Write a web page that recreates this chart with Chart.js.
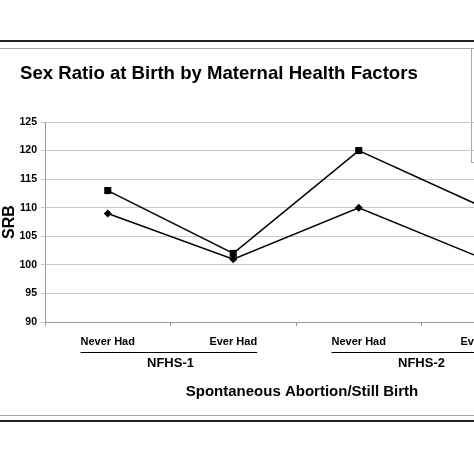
<!DOCTYPE html>
<html><head><meta charset="utf-8">
<script src="https://cdn.jsdelivr.net/npm/chart.js@4/dist/chart.umd.min.js"></script>
<style>html,body{margin:0;padding:0;overflow:hidden;background:#fff;width:474px;height:474px}canvas{display:block}</style>
</head><body>
<canvas id="c" width="620" height="474"></canvas>
<script>
const chartTitle = 'Sex Ratio at Birth by Maternal Health Factors';
const categories = ['Never Had', 'Ever Had', 'Never Had', 'Ever Had'];
const groups = ['NFHS-1', 'NFHS-2'];
const seriesNames = ['Series 1', 'Series 2'];
const squareValues = [113, 102, 120, 110];
const diamondValues = [109, 101, 110, 101];
const yMin = 90, yMax = 125, yStep = 5;
const yTitle = 'SRB';
const xTitle = 'Spontaneous Abortion/Still Birth';

const FONT = "'Liberation Sans', Arial, sans-serif";

const decor = {
  id: 'decor',
  beforeDraw(chart) {
    const ctx = chart.ctx, W = chart.width;
    ctx.save();
    ctx.fillStyle = '#fff';
    ctx.fillRect(0, 0, W, chart.height);
    ctx.fillStyle = '#222';
    ctx.fillRect(0, 40, W, 2);
    ctx.fillRect(0, 420, W, 2);
    ctx.fillStyle = '#a8a8a8';
    ctx.fillRect(0, 48, W, 1);
    ctx.fillRect(0, 415, W, 1);
    ctx.strokeStyle = '#a8a8a8';
    ctx.lineWidth = 1;
    ctx.strokeRect(471.5, 48.5, 200, 114);
    ctx.restore();
  },
  afterDraw(chart) {
    const ctx = chart.ctx;
    ctx.save();
    ctx.fillStyle = '#000';
    ctx.font = 'bold 18.6px ' + FONT;
    ctx.textBaseline = 'alphabetic';
    ctx.textAlign = 'left';
    ctx.fillText(chartTitle, 20, 79);
    // axis title
    ctx.font = 'bold 15px ' + FONT;
    ctx.textAlign = 'center';
    ctx.textBaseline = 'middle';
    ctx.fillText(xTitle, 302, 392);
    // group underlines
    const xs = chart.scales.x;
    ctx.font = 'bold 11px ' + FONT;
    ctx.strokeStyle = '#000';
    ctx.lineWidth = 1;
    for (let g = 0; g < groups.length; g++) {
      const a = g * 2, b = g * 2 + 1;
      const x0 = xs.getPixelForValue(a) - ctx.measureText(categories[a]).width / 2;
      const x1 = xs.getPixelForValue(b) + ctx.measureText(categories[b]).width / 2;
      ctx.beginPath();
      ctx.moveTo(x0, 352.5);
      ctx.lineTo(x1, 352.5);
      ctx.stroke();
    }
    ctx.restore();
  }
};

new Chart(document.getElementById('c'), {
  type: 'line',
  data: {
    labels: categories,
    datasets: [
      { label: seriesNames[0], data: squareValues, borderColor: '#000', backgroundColor: '#000',
        borderWidth: 1.5, pointStyle: 'rect', pointRadius: 5, pointBorderWidth: 0, tension: 0 },
      { label: seriesNames[1], data: diamondValues, borderColor: '#000', backgroundColor: '#000',
        borderWidth: 1.5, pointStyle: 'rectRot', pointRadius: 4, pointBorderWidth: 0, tension: 0 }
    ]
  },
  options: {
    responsive: false,
    animation: false,
    devicePixelRatio: 1,
    layout: { padding: { top: 122, left: 0, right: 73, bottom: 64 } },
    plugins: { legend: { display: false }, title: { display: false }, tooltip: { enabled: false } },
    scales: {
      y: {
        min: yMin, max: yMax,
        ticks: { stepSize: yStep, color: '#000', font: { family: FONT, weight: 'bold', size: 10.5 }, padding: 4 },
        grid: { color: '#c8c8c8', tickLength: 4, lineWidth: 1 },
        border: { color: '#9a9a9a' },
        title: { display: true, text: yTitle, color: '#000', font: { family: FONT, weight: 'bold', size: 16 }, padding: 0 },
        afterFit(s) { s.width = 45; }
      },
      x: {
        weight: 0,
        offset: true,
        ticks: { color: '#000', font: { family: FONT, weight: 'bold', size: 11 }, padding: 9, maxRotation: 0, autoSkip: false },
        grid: { offset: true, drawOnChartArea: false, drawTicks: true, tickLength: 4, color: '#9a9a9a' },
        border: { color: '#9a9a9a' },
        afterFit(s) { s.height = 24; }
      },
      x2: {
        type: 'category',
        position: 'bottom',
        weight: 1,
        labels: groups,
        offset: true,
        ticks: { color: '#000', font: { family: FONT, weight: 'bold', size: 13 }, padding: 10, maxRotation: 0, autoSkip: false },
        grid: { display: false, drawTicks: false },
        border: { display: false },
        title: { display: false },
        afterFit(s) { s.height = 64; }
      }
    }
  },
  plugins: [decor]
});
</script>
</body></html>
